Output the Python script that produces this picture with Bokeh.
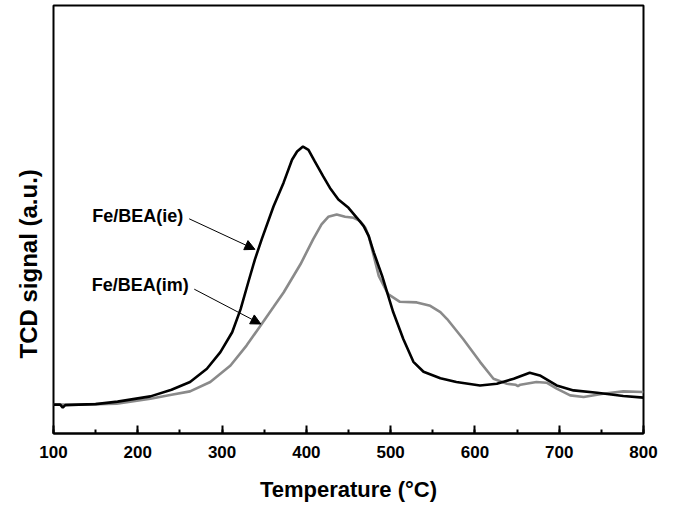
from bokeh.plotting import figure
from bokeh.models import Range1d, SingleIntervalTicker, Label, Arrow, NormalHead, Title
from bokeh.embed import file_html
from bokeh.resources import INLINE

# ---- data ----
temp_ie = [100, 108, 111, 114, 130, 150, 176, 215, 240, 262, 282, 298, 312, 322, 331,
           339, 347, 361, 373, 383, 389, 396, 402.5, 410, 420, 428, 438, 450, 460, 468,
           474, 480, 490, 503, 515, 527, 539, 559, 578, 606, 626, 646, 665, 677, 697,
           717, 745, 776, 800]
signal_ie = [29, 29, 26, 28.5, 29, 29.5, 32, 37.3, 44, 51.7, 65, 81.7, 101.7, 125, 151.7,
             175, 195, 228, 252, 275, 283.3, 288.3, 285, 273.3, 258.3, 246.7, 235, 226.7, 216.7, 208.3,
             198.3, 182, 158, 122, 95, 72, 62, 55.5, 51.7, 48.3, 50, 55, 61, 58.3, 48.3,
             43.3, 41, 37.7, 36]

temp_im = [100, 130, 175, 215, 240, 262, 286, 310, 329, 347, 361, 373, 393, 408, 418,
           426, 436, 446, 456, 464, 470, 474, 478, 486, 497, 511, 531, 547, 559, 567,
           586, 606, 622, 638, 648, 651, 654, 673, 685, 697, 713, 729, 752, 776, 800]
signal_im = [29, 29, 30, 35, 39, 42.3, 51.7, 68.3, 88.3, 110, 127, 141.7, 170, 195, 210,
             217.7, 220, 217.7, 216.7, 213.3, 206.7, 198.3, 185, 158, 140, 132.3, 131.7, 128.3, 122, 115,
             95, 72, 55, 50, 49, 47.5, 49, 51.7, 51, 45, 38.3, 36.7, 40, 42.3, 41.7]

series_names = ["Fe/BEA(ie)", "Fe/BEA(im)"]
# annotation anchor points (data units): text left/middle, arrow start, arrow end
label_x = [146, 145.5]
label_y = [218.5, 149]
arrow_start_x = [261, 267]
arrow_start_y = [215.7, 145]
arrow_end_x = [339, 346]
arrow_end_y = [185, 110]

x_ticks_interval = 100
FONT = "Liberation Sans"

p = figure(width=662, height=504, output_backend="svg", toolbar_location=None,
           x_range=Range1d(100, 800), y_range=Range1d(0, 430),
           min_border_left=53, min_border_right=19, min_border_top=5, min_border_bottom=69)

p.xgrid.visible = False
p.ygrid.visible = False
p.yaxis.visible = False
p.outline_line_color = "black"
p.outline_line_width = 2
p.background_fill_color = "white"
p.border_fill_color = "white"

ax = p.xaxis[0]
ax.ticker = SingleIntervalTicker(interval=x_ticks_interval, num_minor_ticks=2)
ax.axis_line_width = 2
ax.axis_line_color = "black"
ax.major_tick_in = 8
ax.major_tick_out = 0
ax.minor_tick_in = 4
ax.minor_tick_out = 0
ax.major_tick_line_width = 2
ax.minor_tick_line_width = 2
ax.major_label_text_font = FONT
ax.major_label_text_font_style = "bold"
ax.major_label_text_font_size = "17px"
ax.major_label_text_color = "black"
ax.major_label_standoff = 12
ax.axis_label = "Temperature (\u00b0C)"
ax.axis_label_text_font = FONT
ax.axis_label_text_font_style = "bold"
ax.axis_label_text_font_size = "22px"
ax.axis_label_text_color = "black"
ax.axis_label_standoff = 16

p.line(temp_im, signal_im, line_color="#8a8a8a", line_width=2.6)
p.line(temp_ie, signal_ie, line_color="black", line_width=2.6)

for i, name in enumerate(series_names):
    p.add_layout(Label(x=label_x[i], y=label_y[i], text=name, text_font=FONT,
                       text_font_style="bold", text_font_size="18px",
                       text_baseline="middle", text_align="left", text_color="black"))
    p.add_layout(Arrow(x_start=arrow_start_x[i], y_start=arrow_start_y[i],
                       x_end=arrow_end_x[i], y_end=arrow_end_y[i],
                       line_color="black", line_width=1,
                       end=NormalHead(size=10, fill_color="black", line_color="black")))

p.add_layout(Title(text="TCD signal (a.u.)", align="left", offset=75,
                   text_font=FONT, text_font_style="bold", text_font_size="24px",
                   text_color="black", standoff=23), "left")

open("out.html", "w").write(file_html(p, INLINE))
